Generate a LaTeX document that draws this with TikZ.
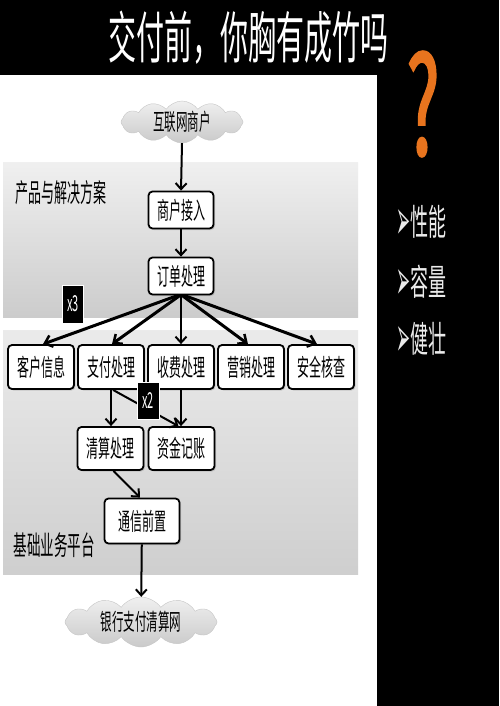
\documentclass[tikz,border=0pt]{standalone}
\usepackage{fontspec}
\usepackage{graphicx}
\usetikzlibrary{arrows.meta,shapes.symbols,shadows}
\newfontfamily\cjk[FakeStretch=0.56]{Noto Sans CJK SC}
\newfontfamily\cjkt[FakeStretch=0.5]{Noto Sans CJK SC}
\newfontfamily\qf[FakeStretch=0.5,FakeBold=1.6]{Noto Sans CJK SC}
\newfontfamily\dv{DejaVu Sans}
\definecolor{qorange}{HTML}{E8741E}
\begin{document}
\begin{tikzpicture}[x=1pt,y=-1pt,
  box/.style={draw=black, line width=1.8pt, rounded corners=4pt, fill=white,
    minimum width=66pt, minimum height=44pt, inner sep=0pt,
    font=\cjkt\fontsize{24}{26}\selectfont,
    drop shadow={opacity=0.3,shadow xshift=1.5pt,shadow yshift=-1.5pt}},
  smallbox/.style={box, minimum width=65pt, minimum height=37pt},
  cloudnode/.style={cloud, cloud puffs=12, cloud puff arc=110, cloud ignores aspect,
    draw=gray!45, line width=0.4pt, top color=gray!12, bottom color=gray!42,
    inner sep=0pt, font=\cjkt\fontsize{23}{25}\selectfont},
  arr/.style={line width=2pt, -{Straight Barb[length=6pt,width=11pt,line width=2pt]}},
  fan/.style={line width=3pt, -{Straight Barb[length=7pt,width=12pt,line width=2.5pt]}},
  tag/.style={fill=black, draw=white, line width=1pt, text=white, inner sep=0pt,
    font=\cjkt\fontsize{22}{24}\selectfont},
  lab/.style={font=\cjkt\fontsize{26}{28}\selectfont, inner sep=0pt},
  bul/.style={anchor=west, text=white!92!black, inner sep=0pt, font=\cjkt\fontsize{36}{38}\selectfont}
]
\fill[black] (0,0) rectangle (499,706);
\useasboundingbox (0,0) rectangle (499,706);
\fill[white] (0,75) rectangle (377,706);

% panels
\shade[top color=gray!12, bottom color=gray!40] (3,162) rectangle (358,317);
\shade[top color=gray!16, bottom color=gray!38] (3,330) rectangle (358,574);

\node[lab] (lab1) at (61,193) {产品与解决方案};
\node[lab, font=\cjkt\fontsize{27}{29}\selectfont] (lab2) at (54,545) {基础业务平台};

% title and side
\node[text=white, inner sep=0pt, font=\cjkt\fontsize{56}{60}\selectfont] (title) at (248,38) {交付前，你胸有成竹吗};
\node[text=qorange, inner sep=0pt, font=\qf\fontsize{136}{136}\selectfont] (q) at (423,104) {?};

\node[bul] (b1) at (396,222) {\raisebox{-4pt}{\resizebox{14pt}{30pt}{\dv ➢}}性能};
\node[bul] (b2) at (396,282) {\raisebox{-4pt}{\resizebox{14pt}{30pt}{\dv ➢}}容量};
\node[bul] (b3) at (396,339) {\raisebox{-4pt}{\resizebox{14pt}{30pt}{\dv ➢}}健壮};

% nodes
\node[cloudnode, minimum width=122pt, minimum height=42pt] (inet) at (182,122) {互联网商户};
\node[smallbox] (acc) at (181,210) {商户接入};
\node[smallbox] (ord) at (181,276) {订单处理};

\node[box] (cust) at (41,367) {客户信息};
\node[box] (pay) at (111,367) {支付处理};
\node[box] (fee) at (181,367) {收费处理};
\node[box] (mkt) at (251,367) {营销处理};
\node[box] (sec) at (321,367) {安全核查};

\node[box, minimum height=43pt] (clr) at (110.5,448.5) {清算处理};
\node[box, minimum height=43pt] (fund) at (181.5,448.5) {资金记账};

\node[box, minimum width=75pt, minimum height=45pt] (comm) at (142,521) {通信前置};
\node[cloudnode, minimum width=152pt, minimum height=50pt] (bank) at (141,622) {银行支付清算网};

% connectors
\draw[arr] (inet.south) -- (acc.north);
\draw[arr] (acc) -- (ord);
\draw[fan] ([xshift=-3pt]ord.south) -- ([xshift=2pt]cust.north);
\draw[fan] ([xshift=-1pt]ord.south) -- ([xshift=1pt]pay.north);
\draw[arr] (ord.south) -- (fee.north);
\draw[fan] ([xshift=1pt]ord.south) -- ([xshift=-3pt]mkt.north);
\draw[fan] ([xshift=3pt]ord.south) -- ([xshift=-4pt]sec.north);

\draw[arr] (pay.south) -- (pay.south |- clr.north);
\draw[arr] (fee.south) -- (fee.south |- fund.north);
\draw[arr] ([xshift=2pt]pay.south) -- ([xshift=-3pt]fund.north);
\draw[arr] ([xshift=3pt]clr.south) -- ([xshift=-2pt]comm.north);
\draw[arr] (comm) -- (bank);

\node[tag, minimum width=21pt, minimum height=38pt] (x3) at (73,304) {x3};
\node[tag, minimum width=22pt, minimum height=37pt] (x2) at (148,400.5) {x2};
\end{tikzpicture}
\end{document}
